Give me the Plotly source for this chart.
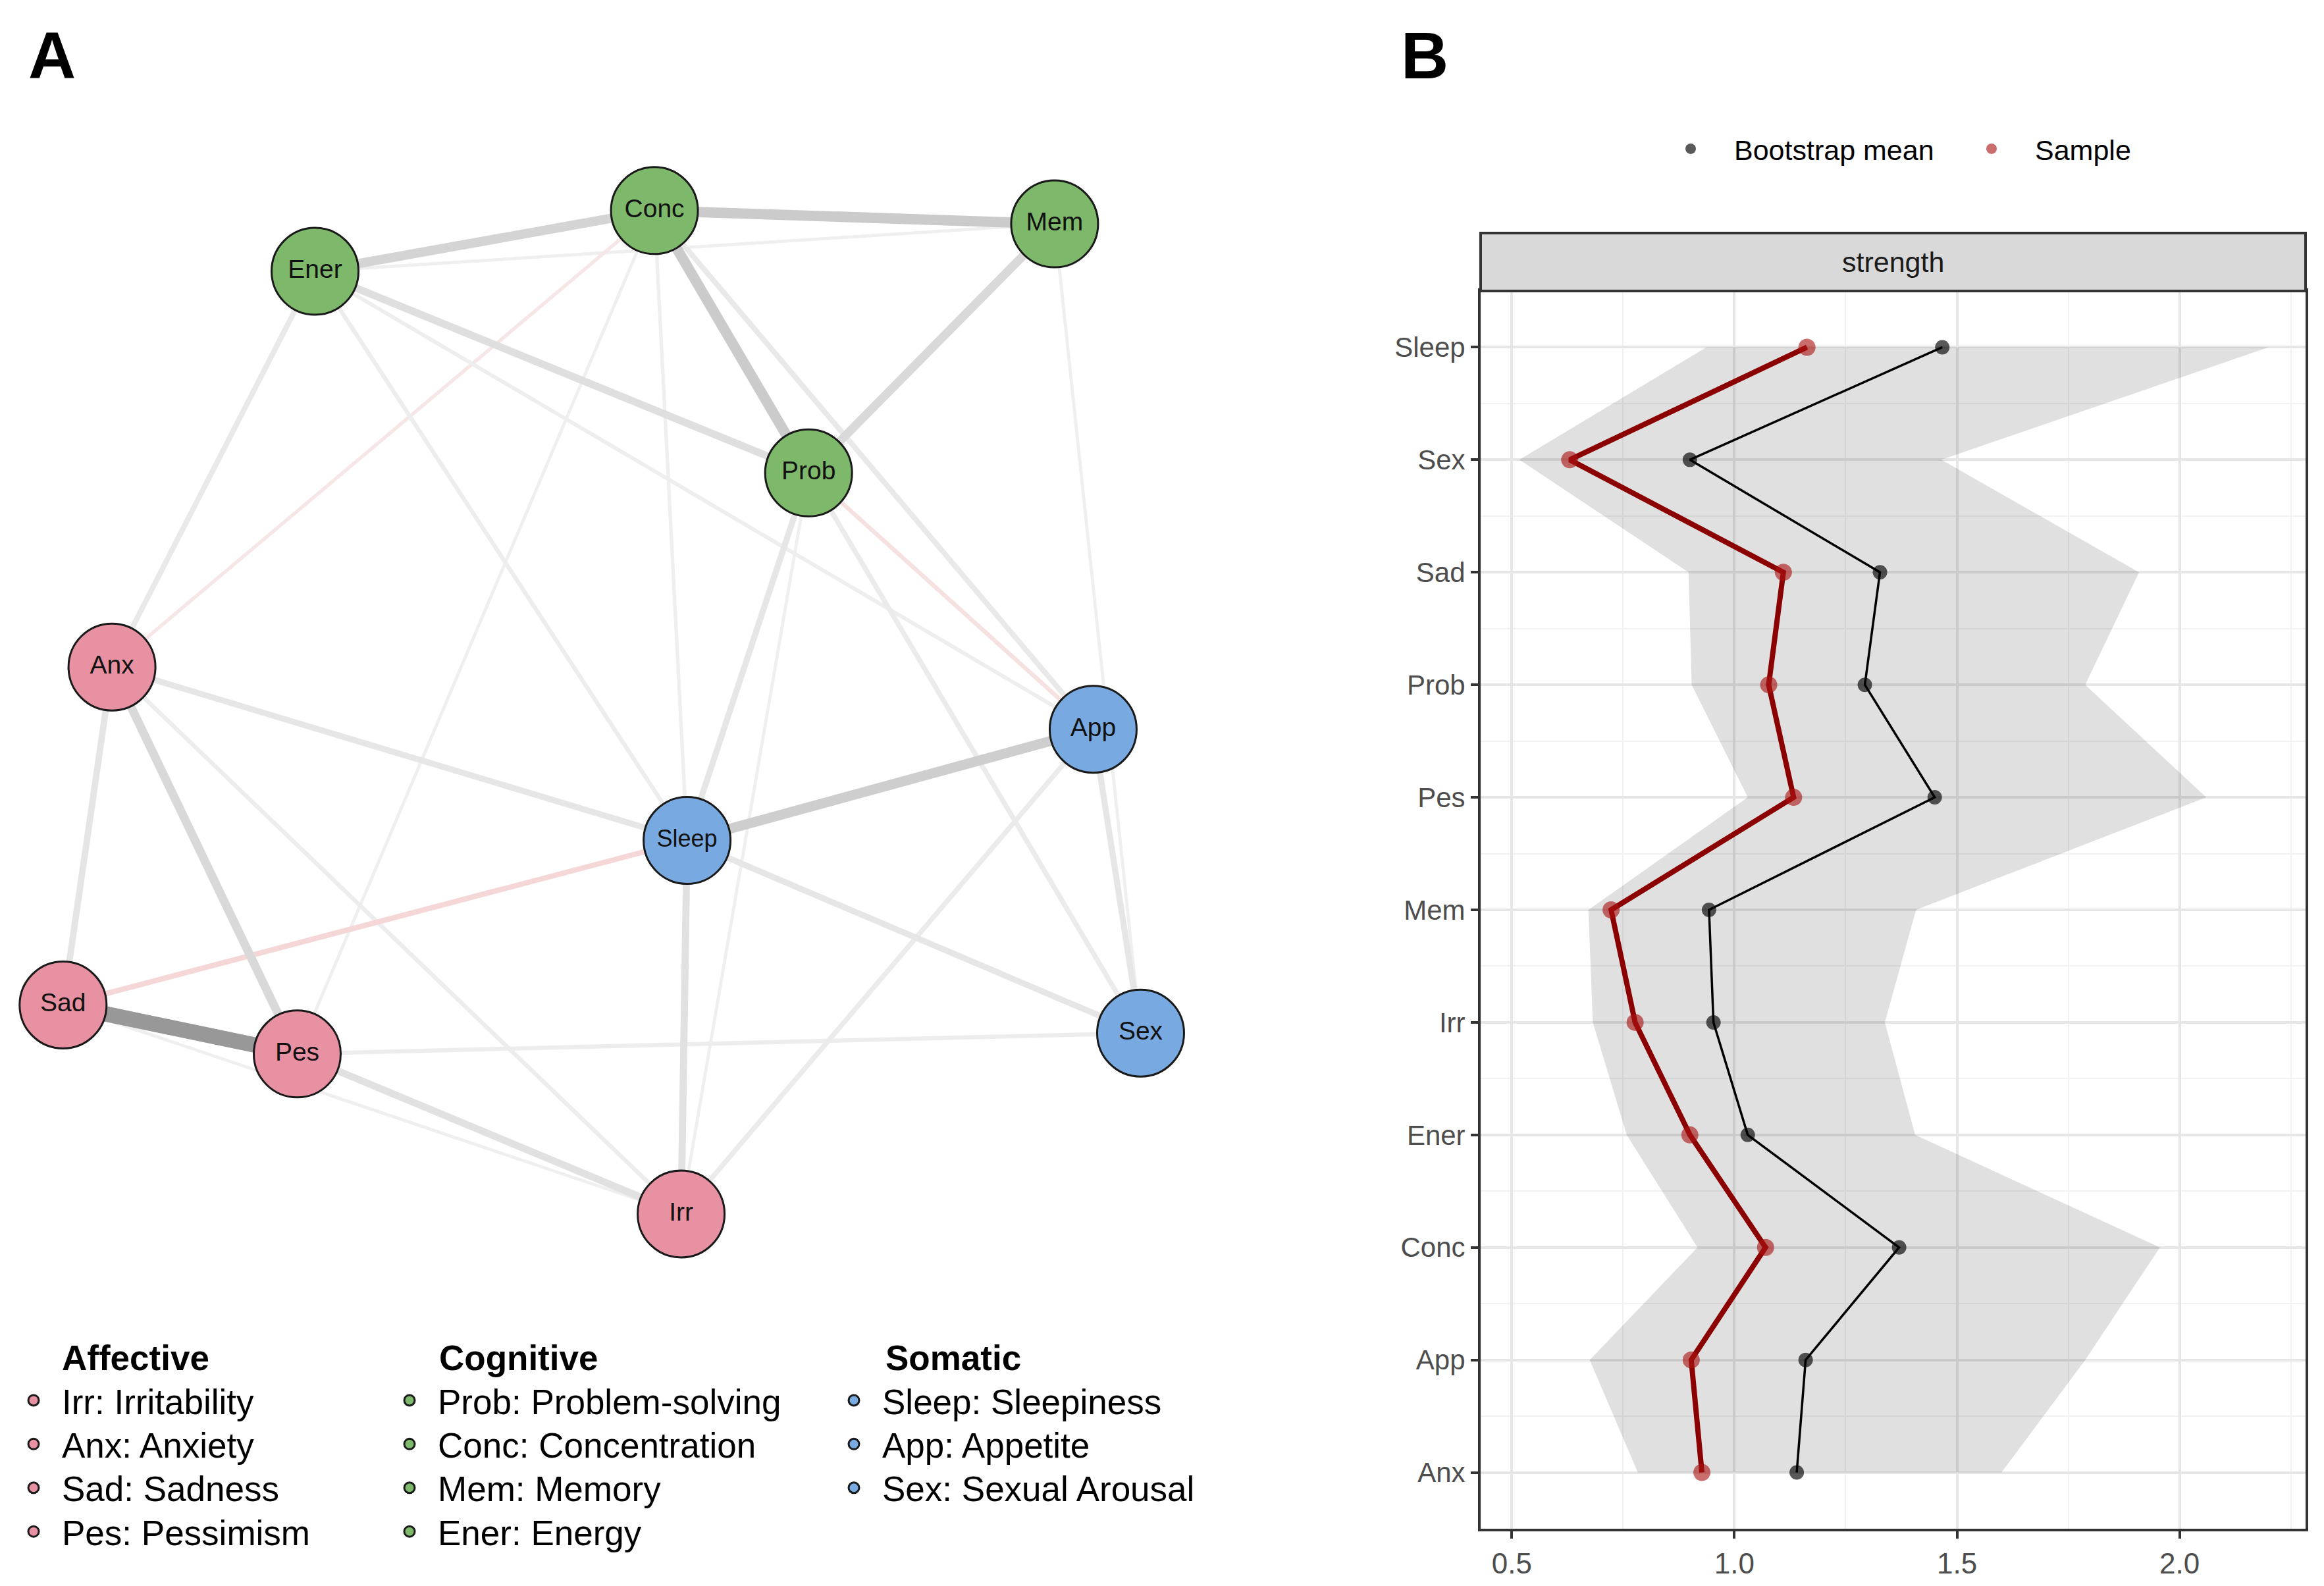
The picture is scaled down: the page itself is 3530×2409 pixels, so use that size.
import plotly.graph_objects as go

W, H = 3530, 2409
U = W / 1568.0          # one layout unit of panel A in pixels
FONT = "Liberation Sans, Arial, Helvetica, sans-serif"

# ---------------- Panel A : network ----------------
node_ids = ["Irr", "Anx", "Sad", "Pes", "Prob", "Conc", "Mem", "Ener", "Sleep", "App", "Sex"]
node_names = ["Irr: Irritability", "Anx: Anxiety", "Sad: Sadness", "Pes: Pessimism",
              "Prob: Problem-solving", "Conc: Concentration", "Mem: Memory", "Ener: Energy",
              "Sleep: Sleepiness", "App: Appetite", "Sex: Sexual Arousal"]
node_group = ["Affective"] * 4 + ["Cognitive"] * 4 + ["Somatic"] * 3
# layout positions (qgraph layout, in panel units)
node_x = [459, 75, 42, 200, 545, 441, 711, 212, 463, 737, 769]
node_y = [818, 449, 677, 710, 318, 141, 150, 182, 566, 491, 696]

edge_from = ["Sad", "Conc", "Conc", "Sleep", "Ener", "Mem", "Anx", "Ener", "Pes", "Sleep",
             "Anx", "Anx", "Prob", "Sleep", "App", "Ener", "Conc", "App", "Prob", "Sad",
             "Prob", "Conc", "Anx", "Ener", "Ener", "Pes", "Conc", "Mem", "Prob", "Conc",
             "Ener", "Sad"]
edge_to = ["Pes", "Mem", "Prob", "App", "Conc", "Prob", "Pes", "Prob", "Irr", "Irr",
           "Sad", "Sleep", "Sleep", "Sex", "Sex", "Anx", "App", "Irr", "Sex", "Sleep",
           "App", "Anx", "Irr", "Sleep", "App", "Sex", "Sleep", "Sex", "Irr", "Pes",
           "Mem", "Irr"]
edge_weight = [0.40, 0.26, 0.26, 0.25, 0.23, 0.21, 0.21, 0.18, 0.17, 0.17,
               0.15, 0.14, 0.14, 0.14, 0.14, 0.12, 0.12, 0.11, 0.11, -0.12,
               -0.09, -0.07, 0.09, 0.09, 0.08, 0.09, 0.07, 0.06, 0.06, 0.06,
               0.06, 0.06]

group_names = ["Affective", "Cognitive", "Somatic"]
group_colors = {"Affective": "#E891A2", "Cognitive": "#7DB86B", "Somatic": "#78AAE1"}

# ---------------- Panel B : centrality stability ----------------
cent_nodes = ["Sleep", "Sex", "Sad", "Prob", "Pes", "Mem", "Irr", "Ener", "Conc", "App", "Anx"]
sample_strength = [1.163, 0.63, 1.11, 1.077, 1.133, 0.723, 0.777, 0.90, 1.07, 0.903, 0.927]
boot_mean = [1.467, 0.90, 1.327, 1.293, 1.45, 0.943, 0.953, 1.03, 1.37, 1.16, 1.14]
boot_lower = [0.937, 0.517, 0.897, 0.904, 1.03, 0.672, 0.682, 0.758, 0.917, 0.675, 0.783]
boot_upper = [2.20, 1.465, 1.909, 1.788, 2.06, 1.408, 1.338, 1.406, 1.956, 1.788, 1.60]
x_ticks = [0.5, 1.0, 1.5, 2.0]
x_ticklabels = ["0.5", "1.0", "1.5", "2.0"]

fig = go.Figure()

# ---- edges (weakest first) ----
pos = {n: (x, y) for n, x, y in zip(node_ids, node_x, node_y)}
order = sorted(range(len(edge_weight)), key=lambda i: abs(edge_weight[i]))
for i in order:
    w = edge_weight[i]
    a = abs(w)
    if w > 0:
        g = int(max(150, 242 - 90 * (a / 0.4) ** 2))
        col = f"rgb({g},{g},{g})"
    else:
        g = int(238 - 250 * (a / 0.4) ** 2)
        col = f"rgb(246,{g},{g})"
    x0, y0 = pos[edge_from[i]]
    x1, y1 = pos[edge_to[i]]
    fig.add_trace(go.Scatter(x=[x0, x1], y=[y0, y1], mode="lines",
                             line=dict(color=col, width=1.5 + a * 55),
                             hoverinfo="skip", showlegend=False,
                             xaxis="x2", yaxis="y2"))

# ---- nodes (one trace per node, each with its own legend entry) ----
col_left = {"Affective": 0, "Cognitive": 571, "Somatic": 1246}   # legend columns (px)
row_y0, row_step = 2119, 66.4                                    # legend rows (px)
legend_layout = {}
row_count = {g: 0 for g in group_names}
for k, (n, name, grp, x, y) in enumerate(zip(node_ids, node_names, node_group, node_x, node_y)):
    lid = "legend" if k == 0 else f"legend{k + 1}"
    r = row_count[grp]
    row_count[grp] += 1
    legend_layout[lid] = dict(x=col_left[grp] / W, y=1 - (row_y0 + r * row_step) / H,
                              xanchor="left", yanchor="middle",
                              font=dict(size=53, family=FONT), itemsizing="trace",
                              itemwidth=76, bgcolor="rgba(0,0,0,0)")
    fig.add_trace(go.Scatter(x=[x], y=[y], mode="markers", name=name,
                             marker=dict(size=132, color=group_colors[grp],
                                         line=dict(color="#1a1a1a", width=3)),
                             legend=lid, showlegend=True,
                             hoverinfo="name", xaxis="x2", yaxis="y2"))
fig.add_trace(go.Scatter(x=node_x, y=node_y, mode="text", text=node_ids,
                         textposition="middle center",
                         textfont=dict(family=FONT, size=[39 if n != "Sleep" else 36 for n in node_ids],
                                       color="#111111"),
                         hoverinfo="skip", showlegend=False, xaxis="x2", yaxis="y2"))

# ---- panel B ----
lid_b = f"legend{len(node_ids) + 1}"
yidx = list(range(len(cent_nodes) - 1, -1, -1))
fig.add_trace(go.Scatter(x=boot_lower + boot_upper[::-1], y=yidx + yidx[::-1],
                         fill="toself", fillcolor="rgba(0,0,0,0.12)", mode="lines",
                         line=dict(width=0), hoverinfo="skip", showlegend=False))
fig.add_trace(go.Scatter(x=boot_mean, y=yidx, mode="lines", line=dict(color="black", width=3.5),
                         showlegend=False, hoverinfo="skip"))
fig.add_trace(go.Scatter(x=sample_strength, y=yidx, mode="lines", line=dict(color="#8B0000", width=8),
                         showlegend=False, hoverinfo="skip"))
fig.add_trace(go.Scatter(x=boot_mean, y=yidx, mode="markers", name="Bootstrap mean",
                         marker=dict(size=22, color="rgba(0,0,0,0.65)"), legend=lid_b))
fig.add_trace(go.Scatter(x=sample_strength, y=yidx, mode="markers", name="Sample",
                         marker=dict(size=26, color="rgba(170,20,20,0.62)"), legend=lid_b))

# geometry of panel B (pixels)
bx0, bx1 = 2241, 3494
by_top, by_bot = 434, 2314
strip_top = 346
xd = [bx0 / W, bx1 / W]
yd = [1 - by_bot / H, 1 - by_top / H]

legend_layout[lid_b] = dict(x=2494 / W, y=1 - 218 / H, xanchor="left", yanchor="middle",
                            orientation="h", font=dict(size=43, family=FONT), itemsizing="trace",
                            itemwidth=122, entrywidth=320, entrywidthmode="pixels",
                            bgcolor="rgba(0,0,0,0)")

grid_major = "#E6E6E6"
grid_minor = "#F2F2F2"
fig.update_layout(
    width=W, height=H, margin=dict(l=0, r=0, t=0, b=0),
    paper_bgcolor="white", plot_bgcolor="white",
    font=dict(family=FONT, color="black"),
    xaxis=dict(domain=xd, range=[0.43, 2.283], tickvals=x_ticks, ticktext=x_ticklabels,
               showgrid=True, gridcolor=grid_major, gridwidth=4, zeroline=False,
               minor=dict(tick0=0.25, dtick=0.25, showgrid=True, gridcolor=grid_minor, gridwidth=2),
               showline=True, mirror=True, linecolor="#333333", linewidth=4,
               ticks="outside", ticklen=11, tickwidth=4, tickcolor="#333333",
               tickfont=dict(size=44, color="#4D4D4D")),
    yaxis=dict(domain=yd, range=[-0.5, 10.5], tickvals=yidx, ticktext=cent_nodes,
               showgrid=True, gridcolor=grid_major, gridwidth=4, zeroline=False,
               minor=dict(tick0=0.5, dtick=1, showgrid=True, gridcolor=grid_minor, gridwidth=2),
               showline=True, mirror=True, linecolor="#333333", linewidth=4,
               ticks="outside", ticklen=11, tickwidth=4, tickcolor="#333333",
               tickfont=dict(size=42, color="#4D4D4D")),
    xaxis2=dict(domain=[0, 0.6], range=[3, 0.6 * 1568 + 3], visible=False, fixedrange=True),
    yaxis2=dict(domain=[0, 1], range=[H / U + 2.5, 2.5], visible=False, fixedrange=True),
    shapes=[dict(type="rect", xref="paper", yref="paper", x0=xd[0], x1=xd[1],
                 y0=yd[1], y1=1 - strip_top / H, fillcolor="#D9D9D9",
                 line=dict(color="#333333", width=4), layer="above")],
)
fig.update_layout(**legend_layout)

ann = [
    dict(text="<b>A</b>", x=33 / W, y=1 - 76 / H, font=dict(size=100)),
    dict(text="<b>B</b>", x=2118 / W, y=1 - 76 / H, font=dict(size=100)),
    dict(text="strength", x=(xd[0] + xd[1]) / 2, y=1 - 390 / H, font=dict(size=43, color="#1A1A1A"),
         xanchor="center"),
]
for gname, gx in zip(group_names, [84, 657, 1335]):
    ann.append(dict(text=f"<b>{gname}</b>", x=gx / W, y=1 - 2054 / H, font=dict(size=53)))
for a in ann:
    a.setdefault("xanchor", "left")
    a.update(xref="paper", yref="paper", yanchor="middle", showarrow=False)
    a["font"] = dict(family=FONT, color=a["font"].get("color", "black"), size=a["font"]["size"])
fig.update_layout(annotations=ann)

fig.write_html("out.html")
